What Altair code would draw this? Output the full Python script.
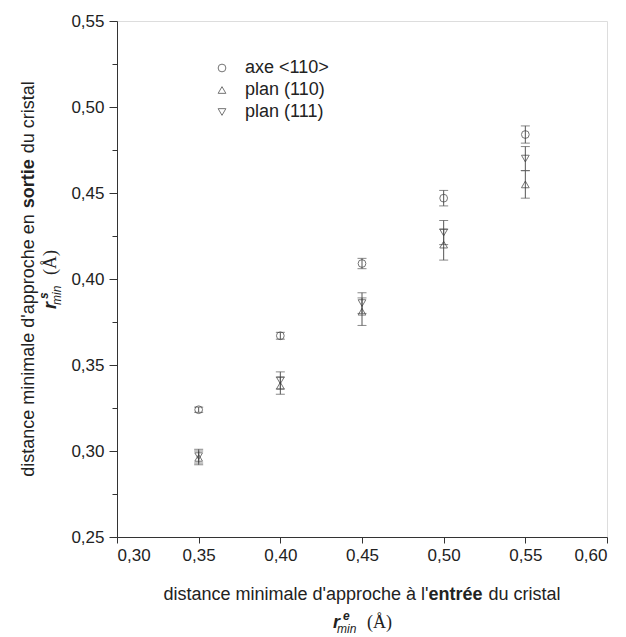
import altair as alt
import pandas as pd

# ---------------- data ----------------
x_vals = [0.35, 0.40, 0.45, 0.50, 0.55]
series_names = ["axe <110>", "plan (110)", "plan (111)"]
axe_110 = [0.324, 0.367, 0.409, 0.447, 0.484]
axe_110_err = [0.0015, 0.002, 0.003, 0.0045, 0.005]
plan_110 = [0.296, 0.338, 0.381, 0.420, 0.455]
plan_110_err = [0.004, 0.005, 0.008, 0.009, 0.008]
plan_111 = [0.297, 0.341, 0.386, 0.427, 0.470]
plan_111_err = [0.004, 0.005, 0.006, 0.007, 0.007]

x_ticks = [0.30, 0.35, 0.40, 0.45, 0.50, 0.55, 0.60]
y_ticks = [0.25, 0.275, 0.30, 0.325, 0.35, 0.375, 0.40, 0.425, 0.45, 0.475, 0.50, 0.525, 0.55]

x_title_parts = ["distance minimale d'approche à l'", "entrée", "du cristal"]
y_title_parts = ["distance minimale d'approche en", "sortie", "du cristal"]

rows = []
for name, ys, es in [(series_names[0], axe_110, axe_110_err),
                     (series_names[1], plan_110, plan_110_err),
                     (series_names[2], plan_111, plan_111_err)]:
    for xv, yv, ev in zip(x_vals, ys, es):
        rows.append({"x": xv, "y": yv, "err": ev, "serie": name})
df = pd.DataFrame(rows)

# ---------------- styling ----------------
W, H = 490, 516
FONT = "Liberation Sans"
FS = 17     # tick labels
TFS = 18    # titles / legend
INK = "#333333"
GAP = 0.278 * TFS + 1   # word space between title pieces

# Arial/Helvetica advance widths (1/1000 em) for title layout
REG = {' ': 278, 'a': 556, 'b': 556, 'c': 500, 'd': 556, 'e': 556, 'f': 278,
       'g': 556, 'h': 556, 'i': 222, 'l': 222, 'm': 833, 'n': 556, 'o': 556, 'p': 556,
       'r': 333, 's': 500, 't': 278, 'u': 556, "'": 191, 'à': 556, 'é': 556}
BOLD = {'e': 556, 'n': 611, 't': 333, 'r': 389, 'é': 556, 's': 556, 'o': 611, 'i': 278}


def width(txt, table, fs):
    return sum(table.get(ch, 556) for ch in txt) * fs / 1000.0


major = "abs(datum.value*20 - round(datum.value*20)) < 0.01"
lab = "replace(format(datum.value, '.2f'), '.', ',')"

xscale = alt.Scale(domain=[0.30, 0.60], nice=False, zero=False)
yscale = alt.Scale(domain=[0.25, 0.55], nice=False, zero=False)

x_axis = alt.Axis(values=x_ticks, labelExpr=lab, title=None, grid=False,
                  tickSize=6, labelFontSize=FS, labelFont=FONT, labelColor="#222",
                  domainColor=INK, tickColor=INK, labelPadding=4)
y_axis = alt.Axis(values=y_ticks, labelExpr=f"{major} ? {lab} : ''", title=None, grid=False,
                  tickSize={"condition": {"test": major, "value": 8}, "value": 5},
                  labelFontSize=FS, labelFont=FONT, labelColor="#222",
                  domainColor=INK, tickColor=INK, labelPadding=5)

base = alt.Chart(df)

bars = base.mark_errorbar(ticks=True, size=9, thickness=1, color="#555555").encode(
    x=alt.X("x:Q", scale=xscale, axis=x_axis),
    y=alt.Y("y:Q", scale=yscale, axis=y_axis),
    yError="err:Q",
)

points = base.mark_point(filled=False, size=60, strokeWidth=1, color="#3a3a3a").encode(
    x=alt.X("x:Q", scale=xscale),
    y=alt.Y("y:Q", scale=yscale),
    shape=alt.Shape("serie:N",
                    scale=alt.Scale(domain=series_names,
                                    range=["circle", "triangle-up", "triangle-down"]),
                    legend=alt.Legend(title=None, orient="none", legendX=96, legendY=38,
                                      labelFont=FONT, labelFontSize=TFS, labelColor="#222",
                                      symbolSize=60, symbolStrokeColor="#3a3a3a",
                                      symbolFillColor="transparent", symbolStrokeWidth=1,
                                      labelOffset=14, rowPadding=4, padding=0)),
)

layers = [bars, points]


def txt(s, x, y, size=TFS, weight="normal", style="normal", font=FONT, angle=0, align="left"):
    return alt.Chart(pd.DataFrame({"t": [s]})).mark_text(
        font=font, fontSize=size, fontWeight=weight, fontStyle=style, color="#222",
        align=align, baseline="alphabetic", angle=angle,
    ).encode(x=alt.value(x), y=alt.value(y), text="t:N")


# x title line 1 (centered, mixed bold)
w1 = width(x_title_parts[0], REG, TFS)
w2 = width(x_title_parts[1], BOLD, TFS)
w3 = width(x_title_parts[2], REG, TFS)
start = W / 2 - (w1 + w2 + GAP + w3) / 2
bl = H + 63
layers += [txt(x_title_parts[0], start, bl),
           txt(x_title_parts[1], start + w1, bl, weight="bold"),
           txt(x_title_parts[2], start + w1 + w2 + GAP, bl)]

# x title line 2: r^e_min (Å)
c = W / 2
bl2 = H + 91
layers += [txt("r", c - 29, bl2, size=18, weight="bold", style="italic"),
           txt("e", c - 19, bl2 - 8, size=12, weight="bold", style="italic"),
           txt("min", c - 25, bl2 + 5, size=12, style="italic"),
           txt("(Å)", c + 5, bl2, size=18, font="Liberation Serif")]

# y title line 1 (rotated)
v1 = width(y_title_parts[0], REG, TFS)
v2 = width(y_title_parts[1], BOLD, TFS)
v3 = width(y_title_parts[2], REG, TFS)
ys0 = H / 2 + (v1 + GAP + v2 + GAP + v3) / 2
bx = -83
layers += [txt(y_title_parts[0], bx, ys0, angle=270),
           txt(y_title_parts[1], bx, ys0 - v1 - GAP, weight="bold", angle=270),
           txt(y_title_parts[2], bx, ys0 - v1 - GAP - v2 - GAP, angle=270)]

# y title line 2: r^s_min (Å)
ry = H / 2 + 30
bx2 = -61
layers += [txt("r", bx2, ry, size=18, weight="bold", style="italic", angle=270),
           txt("s", bx2 - 8, ry - 10, size=12, weight="bold", style="italic", angle=270),
           txt("min", bx2 + 5, ry - 4, size=12, style="italic", angle=270),
           txt("(Å)", bx2, ry - 34, size=18, font="Liberation Serif", angle=270)]

chart = alt.layer(*layers).properties(
    width=W, height=H,
    autosize=alt.AutoSizeParams(type="none"),
    padding={"left": 109, "top": 13, "right": 10, "bottom": 100},
).configure_view(stroke=None).configure(background="white")

chart.save("out.html", embed_options={"renderer": "svg", "actions": False})
